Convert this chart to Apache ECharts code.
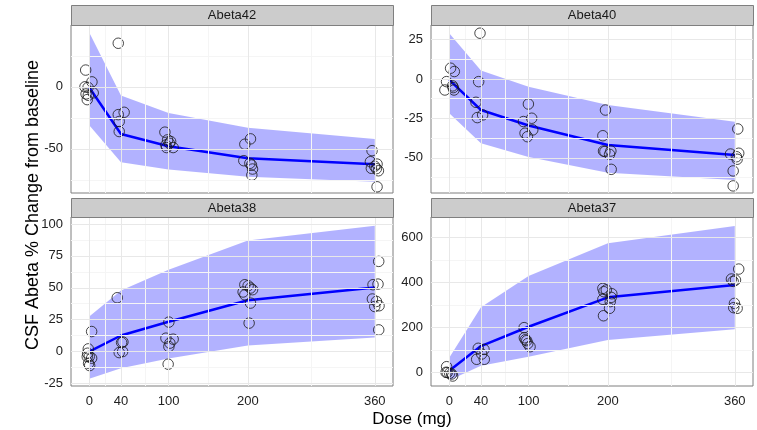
<!DOCTYPE html>
<html>
<head>
<meta charset="utf-8">
<script src="https://cdn.jsdelivr.net/npm/echarts@6.0.0/dist/echarts.min.js"></script>
<style>
html,body{margin:0;padding:0;background:#fff;}
#chart{width:757px;height:430px;}
</style>
</head>
<body>
<div id="chart"></div>
<script>
// ---- shared axis data ----
const doses = [0, 40, 100, 200, 360];
const xBreaks = [0, 40, 100, 200, 360];
const xMinor = [20, 70, 150, 280];
const panelNames = ["Abeta42", "Abeta40", "Abeta38", "Abeta37"];

// ---- Abeta42 ----
const a42Median = [-0.5, -38, -47.8, -57.5, -62.4];
const a42Upper = [43.8, -7, -21, -33, -42.1];
const a42Lower = [-31, -60.8, -66.5, -72.4, -76.5];
const a42PtX = [-4.5, -5.4, -1.5, 3.4, -4, -1.2, 5, -2.5,
  36.6, 44, 36.6, 37.8, 37.8,
  95.4, 98.8, 102.6, 96.6, 101, 105.8, 97.5,
  203.3, 196.2, 194.9, 202.5, 204.6, 205.9, 205,
  356.6, 354.5, 355.7, 362.9, 362, 364.6, 362.9, 360];
const a42PtY = [13.5, 0, -0.5, 4, -5.7, -6.8, -4.9, -10.3,
  35.1, -20.5, -22.4, -27.9, -36,
  -36.5, -42.7, -44, -46.8, -45.5, -48.9, -48.9,
  -41.9, -46.2, -59.5, -61.6, -63, -66.2, -71.1,
  -51.4, -60.3, -65.6, -62.2, -65.9, -67.6, -80.5, -64];
const a42Major = [-50, 0];
const a42Minor = [-75, -25, 25];

// ---- Abeta40 ----
const a40Median = [-0.6, -19.7, -29.5, -41.9, -48.2];
const a40Upper = [29, 5.3, -5, -16.5, -27.1];
const a40Lower = [-21.8, -40.8, -49.5, -59.5, -64];
const a40PtX = [1.7, 6.4, -3.4, -5.5, 4.2, 6, 5,
  38.8, 37.1, 33.7, 42.1, 35.4,
  99.8, 104, 93.5, 105.3, 95.6, 98.6,
  197, 193.7, 194.5, 196.3, 203.8, 202.1, 204.2,
  363.8, 354.6, 365, 362.1, 363, 358, 358];
const a40PtY = [6.8, 4.7, -1.7, -7, -4.4, -7, -5.5,
  29, -1.7, -14.8, -22.8, -24.5,
  -15.9, -24.9, -27, -32.3, -34.4, -36.6,
  -19.7, -36, -45.7, -46, -45.7, -47.8, -57.3,
  -31.7, -47.6, -47.1, -49.3, -50.9, -58.3, -67.8];
const a40Major = [-50, -25, 0, 25];
const a40Minor = [-62.5, -37.5, -12.5, 12.5];

// ---- Abeta38 ----
const a38Median = [0, 12.6, 23.4, 40.2, 50.3];
const a38Upper = [27.5, 47.9, 64.2, 87, 98.7];
const a38Lower = [-21.4, -13.1, -5.5, 4.7, 11];
const a38PtX = [3, -1.2, -2, 0, 3, -0.8, 0.5, -2.5,
  35.3, 40.8, 42.5, 37.8, 42.1,
  100.4, 96.7, 105.8, 101.7, 100.4, 99.5,
  196.2, 200.3, 203.3, 205.9, 194, 196.2, 203.3, 201.6,
  365, 357.8, 364.1, 357, 362.1, 360, 365.4, 365];
const a38PtY = [15.7, 2.1, -1.3, -3.9, -5.2, -9.2, -11, -4,
  42.2, 7.1, 7.5, -0.8, 0,
  23.1, 10.5, 9.7, 6.6, 3.9, -9.9,
  52.4, 51.6, 49.8, 48.5, 46.7, 44.5, 38, 22.3,
  70.7, 52.4, 52.9, 41.2, 39.3, 35.3, 35.9, 17];
const a38Major = [-25, 0, 25, 50, 75, 100];
const a38Minor = [-12.5, 12.5, 37.5, 62.5, 87.5];

// ---- Abeta37 ----
const a37Median = [7, 117, 203, 334, 389];
const a37Upper = [65, 289.5, 429, 574.6, 651.7];
const a37Lower = [-35, 29, 69.5, 144, 191.5];
const a37PtX = [-3.3, -2.5, 0.5, 3, 4.3, -4,
  36.6, 43.8, 40.9, 34.6, 44.2,
  94.4, 94.7, 97.7, 99, 101.9, 96,
  193.7, 198, 195, 204.2, 193.7, 203, 202.1, 194.5, 205,
  365, 355.8, 360.9, 358, 359.6, 363, 358.7];
const a37PtY = [25, -1, -4, -7.6, -16.5, 0,
  107, 102, 81.5, 58, 58,
  199, 154, 141, 128, 114, 145,
  374, 367, 359, 334, 325, 315, 285, 252, 350,
  460, 415.6, 411, 405, 307, 285, 288];
const a37Major = [0, 200, 400, 600];
const a37Minor = [100, 300, 500];

// ---- panel layout (styling, not data) ----
const panels = [
  {name: panelNames[0], med: a42Median, up: a42Upper, lo: a42Lower, px: a42PtX, py: a42PtY, major: a42Major, minor: a42Minor, ymin: -85.5, ymax: 49.8, left: 71, top: 25, h: 168, bottom: false},
  {name: panelNames[1], med: a40Median, up: a40Upper, lo: a40Lower, px: a40PtX, py: a40PtY, major: a40Major, minor: a40Minor, ymin: -72.3, ymax: 34.2, left: 431, top: 25, h: 168, bottom: false},
  {name: panelNames[2], med: a38Median, up: a38Upper, lo: a38Lower, px: a38PtX, py: a38PtY, major: a38Major, minor: a38Minor, ymin: -27, ymax: 105.5, left: 71, top: 217, h: 169, bottom: true},
  {name: panelNames[3], med: a37Median, up: a37Upper, lo: a37Lower, px: a37PtX, py: a37PtY, major: a37Major, minor: a37Minor, ymin: -61, ymax: 692, left: 431, top: 217, h: 169, bottom: true}
];
const W = 322;
const FONT = "Liberation Sans, Arial, sans-serif";

const grids = [], xAxes = [], yAxes = [], series = [], graphics = [];

panels.forEach((p, i) => {
  grids.push({left: p.left, top: p.top, width: W, height: p.h, show: true,
    backgroundColor: '#ffffff', borderColor: '#7f7f7f', borderWidth: 1, containLabel: false});
  xAxes.push({type: 'value', gridIndex: i, min: -23, max: 383,
    axisLine: {show: false}, splitLine: {show: false},
    axisTick: {show: p.bottom, length: 4, lineStyle: {color: '#7f7f7f', width: 1}, customValues: xBreaks},
    axisLabel: {show: p.bottom, customValues: xBreaks, margin: 9, color: '#222', fontSize: 13, fontFamily: FONT}
  });
  yAxes.push({type: 'value', gridIndex: i, min: p.ymin, max: p.ymax,
    axisLine: {show: false}, splitLine: {show: false},
    axisTick: {show: true, length: 4, lineStyle: {color: '#7f7f7f', width: 1}, customValues: p.major},
    axisLabel: {show: true, customValues: p.major, margin: 8, color: '#222', fontSize: 13, fontFamily: FONT}
  });
  // grid lines
  series.push({type: 'line', xAxisIndex: i, yAxisIndex: i, data: [], z: 1, silent: true,
    markLine: {silent: true, symbol: 'none', label: {show: false}, animation: false,
      lineStyle: {color: '#f5f5f5', width: 1, type: 'solid'},
      data: xMinor.map(v => ({xAxis: v})).concat(p.minor.map(v => ({yAxis: v})))}
  });
  series.push({type: 'line', xAxisIndex: i, yAxisIndex: i, data: [], z: 1, silent: true,
    markLine: {silent: true, symbol: 'none', label: {show: false}, animation: false,
      lineStyle: {color: '#e8e8e8', width: 1, type: 'solid'},
      data: xBreaks.map(v => ({xAxis: v})).concat(p.major.map(v => ({yAxis: v})))}
  });
  // ribbon
  const up = p.up, lo = p.lo;
  series.push({type: 'custom', xAxisIndex: i, yAxisIndex: i, z: 2, silent: true,
    data: doses.map((d, k) => [d, lo[k], up[k]]),
    encode: {x: 0, y: [1, 2]},
    renderItem: function (params, api) {
      if (params.dataIndex !== 0) return null;
      const pts = [];
      for (let k = 0; k < doses.length; k++) pts.push(api.coord([doses[k], up[k]]));
      for (let k = doses.length - 1; k >= 0; k--) pts.push(api.coord([doses[k], lo[k]]));
      return {type: 'polygon', shape: {points: pts}, style: {fill: 'rgba(0,0,255,0.3)'}};
    }
  });
  // median line
  series.push({type: 'line', xAxisIndex: i, yAxisIndex: i, z: 3, silent: true,
    data: doses.map((d, k) => [d, p.med[k]]), showSymbol: false, symbol: 'none',
    lineStyle: {color: '#0000ff', width: 2.5}, animation: false});
  // observed points
  series.push({type: 'scatter', xAxisIndex: i, yAxisIndex: i, z: 4, silent: true,
    data: p.px.map((x, k) => [x, p.py[k]]), symbol: 'circle', symbolSize: 10.5,
    itemStyle: {color: 'rgba(0,0,0,0)', borderColor: '#1a1a1a', borderWidth: 1}, animation: false});
  // strip
  const sTop = p.top === 25 ? 5 : 198;
  graphics.push({type: 'rect', left: p.left, top: sTop, shape: {width: W, height: p.top - sTop},
    style: {fill: '#cccccc', stroke: '#7f7f7f', lineWidth: 1}, z: 10});
  graphics.push({type: 'text', x: p.left + W / 2, y: (sTop + p.top) / 2 + 0.5,
    style: {text: p.name, fill: '#1a1a1a', font: '13px ' + FONT, textAlign: 'center', textVerticalAlign: 'middle'}, z: 11});
});

graphics.push({type: 'text', x: 412, y: 419,
  style: {text: 'Dose (mg)', fill: '#000', font: '17px ' + FONT, textAlign: 'center', textVerticalAlign: 'middle'}});
graphics.push({type: 'text', x: 33, y: 205, rotation: Math.PI / 2,
  style: {text: 'CSF Abeta % Change from baseline', fill: '#000', font: '18px ' + FONT, textAlign: 'center', textVerticalAlign: 'middle'}});

const chart = echarts.init(document.getElementById('chart'), null, {renderer: 'canvas'});
chart.setOption({
  animation: false,
  backgroundColor: '#ffffff',
  grid: grids, xAxis: xAxes, yAxis: yAxes, series: series, graphic: graphics
});
</script>
</body>
</html>
